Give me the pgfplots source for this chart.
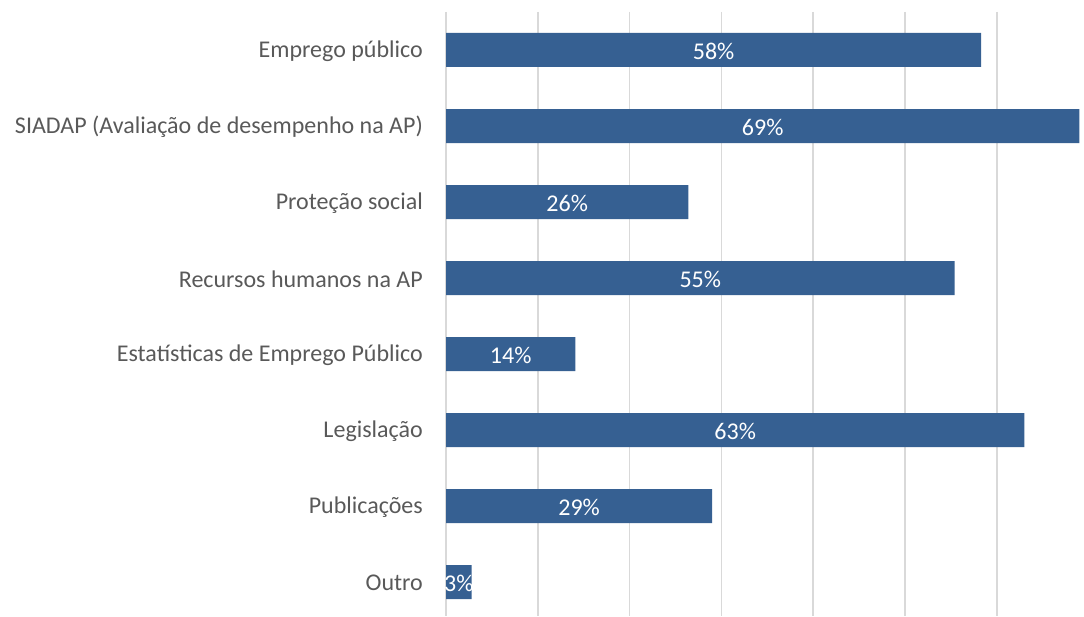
\documentclass[border=0pt]{standalone}
\usepackage{pgfplots}
\pgfplotsset{compat=1.18}
\usepackage{fontspec}
\setmainfont{Carlito}
\definecolor{barblue}{RGB}{54,96,146}
\definecolor{labgray}{RGB}{89,89,89}
\definecolor{gridgray}{RGB}{217,217,217}
\begin{document}
\begin{tikzpicture}[x=1pt,y=1pt]
\useasboundingbox (0,0) rectangle (1084,616);
\begin{axis}[
  at={(446pt,0pt)}, anchor=south west,
  scale only axis, width=638pt, height=604pt,
  xbar, bar width=34pt,
  xmin=0, xmax=69.5,
  ymin=-0.5, ymax=7.447, y dir=reverse,
  ytick={0,...,7},
  yticklabels={Emprego público,SIADAP (Avaliação de desempenho na AP),Proteção social,Recursos humanos na AP,Estatísticas de Emprego Público,Legislação,Publicações,Outro},
  xtick={0,10,...,70}, xticklabels={},
  xmajorgrids, major grid style={gridgray, line width=1.5pt},
  axis line style={draw=none},
  major tick length=0pt,
  yticklabel style={font=\fontsize{24}{28}\selectfont, text=labgray, inner sep=0pt, xshift=-23pt, yshift=-1pt},
  clip=false,
  /pgf/number format/assume math mode=true,
  visualization depends on=x \as \rawx,
  nodes near coords={\pgfmathprintnumber[fixed,precision=0]{\pgfplotspointmeta}\%},
  point meta=x,
  every node near coord/.append style={anchor=center, text=white, font=\fontsize{24}{28}\selectfont, inner sep=0pt, yshift=-1pt, shift={(axis direction cs:-\rawx/2,0)}},
]
\addplot[fill=barblue, draw=none] coordinates {
(58.3,0) (69,1) (26.4,2) (55.4,3) (14.1,4) (63,5) (29,6) (2.8,7)};
\end{axis}
\end{tikzpicture}
\end{document}
